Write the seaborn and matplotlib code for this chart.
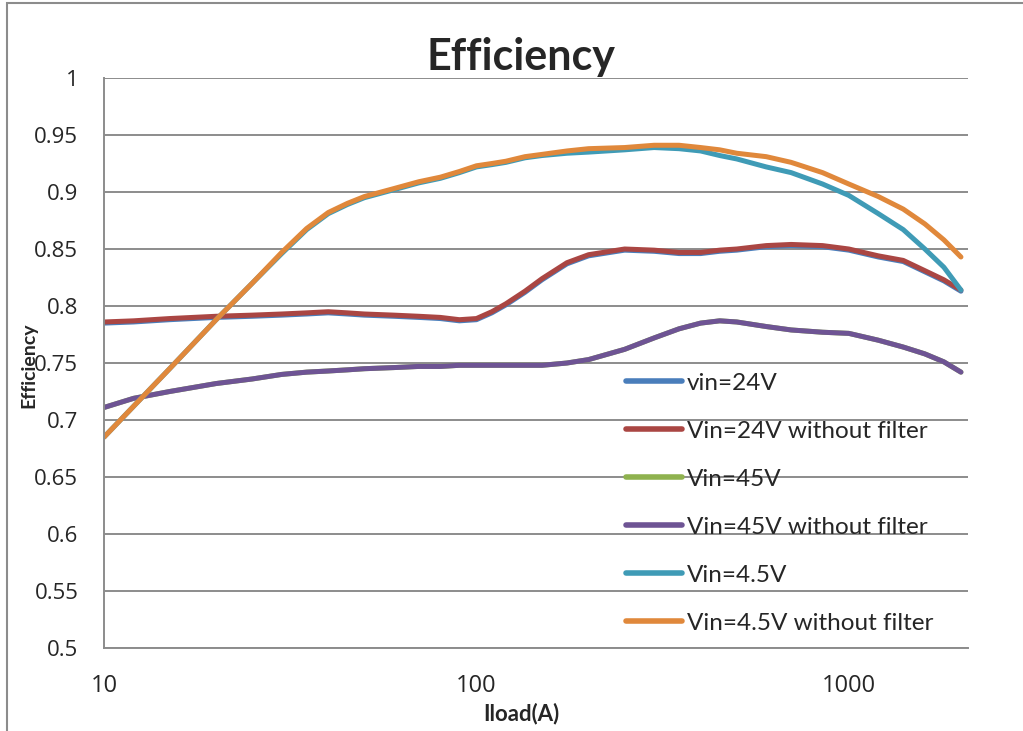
# Efficiency vs load current, Excel-style log chart
import pandas as pd
import matplotlib.pyplot as plt
import seaborn as sns
from matplotlib.patches import Rectangle

# -------------------------------
# Data
# -------------------------------
iload = [10, 12, 15, 20, 25, 30, 35, 40, 45, 50, 60, 70, 80, 90, 100, 110, 120,
         135, 150, 175, 200, 250, 300, 350, 400, 450, 500, 600, 700, 850, 1000,
         1200, 1400, 1600, 1800, 2000]

vin24 = [0.785, 0.786, 0.788, 0.790, 0.791, 0.792, 0.793, 0.794, 0.793, 0.792,
         0.791, 0.790, 0.789, 0.787, 0.788, 0.794, 0.801, 0.812, 0.823, 0.837,
         0.844, 0.849, 0.848, 0.846, 0.846, 0.848, 0.849, 0.852, 0.853, 0.852,
         0.849, 0.843, 0.839, 0.830, 0.822, 0.813]
vin24_nf = [0.786, 0.787, 0.789, 0.791, 0.792, 0.793, 0.794, 0.795, 0.794, 0.793,
            0.792, 0.791, 0.790, 0.788, 0.789, 0.795, 0.802, 0.813, 0.824, 0.838,
            0.845, 0.850, 0.849, 0.847, 0.847, 0.849, 0.850, 0.853, 0.854, 0.853,
            0.850, 0.844, 0.840, 0.831, 0.823, 0.814]
vin45 = [0.711, 0.719, 0.725, 0.732, 0.736, 0.740, 0.742, 0.743, 0.744, 0.745,
         0.746, 0.747, 0.747, 0.748, 0.748, 0.748, 0.748, 0.748, 0.748, 0.750,
         0.753, 0.762, 0.772, 0.780, 0.785, 0.787, 0.786, 0.782, 0.779, 0.777,
         0.776, 0.770, 0.764, 0.758, 0.751, 0.742]
vin45_nf = [0.711, 0.719, 0.725, 0.732, 0.736, 0.740, 0.742, 0.743, 0.744, 0.745,
            0.746, 0.747, 0.747, 0.748, 0.748, 0.748, 0.748, 0.748, 0.748, 0.750,
            0.753, 0.762, 0.772, 0.780, 0.785, 0.787, 0.786, 0.782, 0.779, 0.777,
            0.776, 0.770, 0.764, 0.758, 0.751, 0.742]
vin4p5 = [0.685, 0.712, 0.745, 0.788, 0.820, 0.846, 0.867, 0.881, 0.889, 0.895,
          0.902, 0.908, 0.912, 0.917, 0.922, 0.924, 0.926, 0.930, 0.932, 0.934,
          0.935, 0.937, 0.939, 0.938, 0.936, 0.932, 0.929, 0.922, 0.917, 0.907,
          0.897, 0.881, 0.867, 0.850, 0.834, 0.814]
vin4p5_nf = [0.685, 0.712, 0.745, 0.788, 0.820, 0.847, 0.868, 0.882, 0.890, 0.896,
             0.903, 0.909, 0.913, 0.918, 0.923, 0.925, 0.927, 0.931, 0.933, 0.936,
             0.938, 0.939, 0.941, 0.941, 0.939, 0.937, 0.934, 0.931, 0.926, 0.917,
             0.907, 0.896, 0.885, 0.872, 0.858, 0.843]

series_names = ["vin=24V", "Vin=24V without filter", "Vin=45V",
                "Vin=45V without filter", "Vin=4.5V", "Vin=4.5V without filter"]
series_vals = [vin24, vin24_nf, vin45, vin45_nf, vin4p5, vin4p5_nf]
colors = ["#4A7EBB", "#AA4643", "#8FB24F", "#6E5494", "#3F9BB6", "#E0883B"]

y_ticks = [0.5, 0.55, 0.6, 0.65, 0.7, 0.75, 0.8, 0.85, 0.9, 0.95, 1]
y_labels = ["0.5", "0.55", "0.6", "0.65", "0.7", "0.75", "0.8", "0.85", "0.9", "0.95", "1"]
x_ticks = [10, 100, 1000]
x_labels = ["10", "100", "1000"]

rows = []
for name, vals in zip(series_names, series_vals):
    for x, y in zip(iload, vals):
        rows.append({"Iload": x, "Efficiency": y, "Series": name})
df = pd.DataFrame(rows)

# -------------------------------
# Plot
# -------------------------------
sns.set_style("white")
plt.rcParams['font.family'] = ['Lato', 'DejaVu Sans']

fig = plt.figure(figsize=(10.23, 7.31), dpi=100)
ax = fig.add_axes([0.1017, 0.1135, 0.8446, 0.7798])

grid_c = "#8C8C8C"

sns.lineplot(
    data=df, x="Iload", y="Efficiency", hue="Series",
    hue_order=series_names, palette=colors, sort=False,
    linewidth=3.6, ax=ax, legend=True
)
for ln in ax.get_lines():
    ln.set_solid_capstyle("round")
    ln.set_solid_joinstyle("round")

ax.set_xscale("log")
ax.set_xlim(10, 2090)
ax.set_ylim(0.5, 1.0)
ax.set_xticks(x_ticks)
ax.set_xticklabels(x_labels)
ax.minorticks_off()
ax.set_yticks(y_ticks)
ax.set_yticklabels(y_labels)

ax.grid(axis="y", color=grid_c, linewidth=1.4)
ax.set_axisbelow(True)
for side in ["top", "right"]:
    ax.spines[side].set_visible(False)
for side in ["left", "bottom"]:
    ax.spines[side].set_color(grid_c)
    ax.spines[side].set_linewidth(1.4)

ax.tick_params(axis="both", direction="out", length=6.5, width=1.4, color=grid_c,
               labelfontfamily="Open Sans")
ax.tick_params(axis="y", labelsize=16, pad=12)
ax.tick_params(axis="x", labelsize=17, pad=12)

ax.set_xlabel("")
ax.set_ylabel("")

# legend without frame, inside plot area
handles, labels = ax.get_legend_handles_labels()
leg = ax.legend(
    handles, labels, frameon=False, fontsize=17.5,
    loc="upper left", bbox_to_anchor=(0.593, 0.500),
    handlelength=2.3, handletextpad=0.2, labelspacing=1.11,
    borderaxespad=0
)
for h in leg.get_lines():
    h.set_linewidth(4)

fig.text(0.509, 0.922, "Efficiency", ha="center", va="center",
         fontsize=31, fontweight="bold")
fig.text(0.510, 0.024, "Iload(A)", ha="center", va="center",
         fontsize=16, fontweight="bold")
fig.text(0.028, 0.500, "Efficiency", ha="center", va="center",
         rotation=90, fontsize=14, fontweight="bold")

# outer chart frame (top and left edges visible)
fig.add_artist(Rectangle((0.0068, -0.05), 1.2, 1.046, transform=fig.transFigure,
                         fill=False, edgecolor="#8C8C8C", linewidth=1.5))

fig.savefig("out.png", dpi=100)
